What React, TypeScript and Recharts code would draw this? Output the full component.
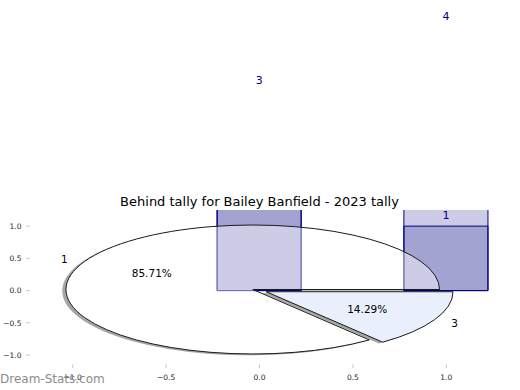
import { ComposedChart, Bar, XAxis, YAxis, ReferenceArea, LabelList } from 'recharts';

// bar groups (two overlapping translucent series)
const barPositions = [0, 1];
const behindA = [3, 1];
const behindB = [3, 4];

// pie
const pieValues = [6, 1];
const pieLabels = ['1', '3'];
const pieColors = ['#ffffff', '#eaf0fb'];
const pieExplode = [0.04, 0.04];

const axisTicks = [-1, -0.5, 0, 0.5, 1];

const TITLE = 'Behind tally for Bailey Banfield - 2023 tally';
const WATERMARK = 'Dream-Stats.com';

const W = 520;
const H = 390;
const PLOT = { left: 26, right: 493, top: 210, bottom: 368 };
const X_DOMAIN: [number, number] = [-1.25, 1.25];
const Y_DOMAIN: [number, number] = [-1.2, 1.25];
const BAR_WIDTH = 0.45; // in data units
const barSize = ((PLOT.right - PLOT.left) * BAR_WIDTH) / (X_DOMAIN[1] - X_DOMAIN[0]);
const SHADOW_OFFSET = -0.02;
const FONT = 'DejaVu Sans, sans-serif';
const NAVY = '#000080';

const chartData = barPositions.map((x, i) => ({ x, a: behindA[i], b: behindB[i] }));

type Wedge = {
  a1: number;
  a2: number;
  ox: number;
  oy: number;
  color: string;
  label: string;
  pct: number;
};

const total = pieValues.reduce((s, v) => s + v, 0);
let acc = 0;
const wedges: Wedge[] = pieValues.map((v, i) => {
  const a1 = (acc / total) * 360;
  acc += v;
  const a2 = (acc / total) * 360;
  const mid = (((a1 + a2) / 2) * Math.PI) / 180;
  return {
    a1,
    a2,
    ox: pieExplode[i] * Math.cos(mid),
    oy: pieExplode[i] * Math.sin(mid),
    color: pieColors[i],
    label: pieLabels[i],
    pct: (v / total) * 100,
  };
});

// draws one elliptical wedge inside the pixel box that ReferenceArea hands over
function wedgeShape(w: Wedge, layer: 'shadow' | 'base' | 'top') {
  return (props: any) => {
    const { x, y, width, height } = props;
    const rx = width / 2;
    const ry = height / 2;
    const cx = x + rx;
    const cy = y + ry;
    const pt = (deg: number, r: number) => {
      const t = (deg * Math.PI) / 180;
      return [cx + rx * r * Math.cos(t), cy - ry * r * Math.sin(t)];
    };
    const [sx, sy] = pt(w.a1, 1);
    const [ex, ey] = pt(w.a2, 1);
    const large = w.a2 - w.a1 > 180 ? 1 : 0;
    const d = `M${cx},${cy}L${sx},${sy}A${rx},${ry} 0 ${large} 0 ${ex},${ey}Z`;

    if (layer === 'shadow') return <path d={d} fill="#4d4d4d" fillOpacity={0.5} stroke="none" />;
    if (layer === 'base') return <path d={d} fill={w.color} stroke="none" />;

    const mid = (w.a1 + w.a2) / 2;
    const [px, py] = pt(mid, 0.6);
    const [lx, ly] = pt(mid, 1.1);
    const left = Math.cos((mid * Math.PI) / 180) < 0;
    return (
      <g>
        <path d={d} fill={w.color} fillOpacity={0.45} stroke="#1a1a1a" strokeWidth={1} />
        <text x={px} y={py} textAnchor="middle" dominantBaseline="central" fontSize={10.5} fontFamily={FONT} fill="#000">
          {`${w.pct.toFixed(2)}%`}
        </text>
        <text x={lx} y={ly} textAnchor={left ? 'end' : 'start'} dominantBaseline="central" fontSize={10.5} fontFamily={FONT} fill="#000">
          {w.label}
        </text>
      </g>
    );
  };
}

const fmt = (v: number) => (v < 0 ? '\u2212' : '') + Math.abs(v).toFixed(1);

const tickStyle = { fill: '#262626', fontSize: 7.5, fontFamily: FONT };
const tickLineStyle = { stroke: '#c4c4c4', strokeWidth: 1 };

const labelB = (p: any) => (
  <text x={p.x + p.width / 2} y={p.y - 13} textAnchor="middle" fontSize={11} fontFamily={FONT} fill="#00008b">
    {p.value}
  </text>
);

// only label the front series where it differs from the back one
const labelA = (p: any) =>
  behindA[p.index] === behindB[p.index] ? null : (
    <text x={p.x + p.width / 2} y={p.y - 7} textAnchor="middle" fontSize={11} fontFamily={FONT} fill="#00008b">
      {p.value}
    </text>
  );

export default function App() {
  const areas = (layer: 'shadow' | 'base' | 'top', shift: number, z: number) =>
    wedges.map((w, i) => (
      <ReferenceArea
        key={`${layer}-${i}`}
        xAxisId="bottom"
        yAxisId="left"
        x1={w.ox - 1 + shift}
        x2={w.ox + 1 + shift}
        y1={w.oy - 1 + shift}
        y2={w.oy + 1 + shift}
        ifOverflow="visible"
        zIndex={z}
        shape={wedgeShape(w, layer)}
      />
    ));

  return (
    <div style={{ position: 'absolute', left: 0, top: 0, width: W, height: H, background: '#fff' }}>
      <ComposedChart
        width={W}
        height={H}
        data={chartData}
        margin={{ top: PLOT.top - 1, right: 0, bottom: 0, left: 0 }}
      >
        <XAxis
          xAxisId="bottom"
          dataKey="x"
          type="number"
          domain={X_DOMAIN}
          ticks={axisTicks}
          allowDataOverflow
          height={H - PLOT.bottom}
          axisLine={false}
          tickSize={-3.5}
          tickMargin={10.5}
          tickLine={tickLineStyle}
          tick={tickStyle}
          tickFormatter={fmt}
        />
        <XAxis
          xAxisId="top"
          orientation="top"
          dataKey="x"
          type="number"
          domain={X_DOMAIN}
          ticks={axisTicks}
          allowDataOverflow
          height={1}
          axisLine={false}
          tickSize={-3.5}
          tickLine={tickLineStyle}
          tick={false}
        />
        <YAxis
          yAxisId="left"
          type="number"
          domain={Y_DOMAIN}
          ticks={axisTicks}
          allowDataOverflow
          width={PLOT.left}
          axisLine={false}
          tickSize={-3.5}
          tickMargin={8}
          tickLine={tickLineStyle}
          tick={tickStyle}
          tickFormatter={fmt}
        />
        <YAxis
          yAxisId="right"
          orientation="right"
          type="number"
          domain={Y_DOMAIN}
          ticks={axisTicks}
          allowDataOverflow
          width={W - PLOT.right}
          axisLine={false}
          tickSize={-3.5}
          tickLine={tickLineStyle}
          tick={false}
        />

        {areas('shadow', SHADOW_OFFSET, 100)}
        {areas('base', 0, 110)}

        <Bar
          xAxisId="top"
          yAxisId="left"
          dataKey="b"
          barSize={barSize}
          fill={NAVY}
          fillOpacity={0.2}
          stroke={NAVY}
          strokeWidth={1}
          isAnimationActive={false}
        >
          <LabelList dataKey="b" content={labelB} />
        </Bar>
        <Bar
          xAxisId="bottom"
          yAxisId="left"
          dataKey="a"
          barSize={barSize}
          fill={NAVY}
          fillOpacity={0.2}
          stroke={NAVY}
          strokeWidth={1}
          isAnimationActive={false}
        >
          <LabelList dataKey="a" content={labelA} />
        </Bar>

        {areas('top', 0, 700)}
      </ComposedChart>

      <svg width={W} height={H} style={{ position: 'absolute', left: 0, top: 0, pointerEvents: 'none' }}>
        <text x={(PLOT.left + PLOT.right) / 2} y={206} textAnchor="middle" fontSize={13} fontFamily={FONT} fill="#000">
          {TITLE}
        </text>
        <text x={0} y={383} fontSize={12} fontFamily={FONT} fill="#8c8c8c">
          {WATERMARK}
        </text>
      </svg>
    </div>
  );
}
